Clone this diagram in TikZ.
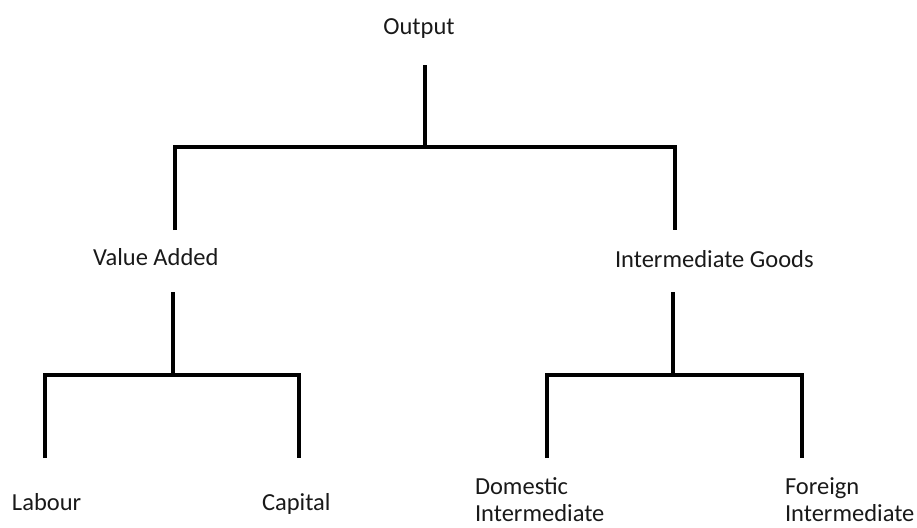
\documentclass[tikz,border=0pt]{standalone}
\usepackage{fontspec}
\setmainfont{Carlito}
\begin{document}
\begin{tikzpicture}[x=1pt,y=-1pt,
  lbl/.style={inner sep=0pt, outer sep=0pt, text=black!90,
    font=\fontsize{24.5}{27}\selectfont, align=left},
  conn/.style={draw=black, line width=3.5pt, line join=miter}]
\useasboundingbox (0,0) rectangle (917,527);

% labels (two-line labels sit on the baseline of their last line)
\node[lbl, anchor=base] (out) at (419,35) {Output};
\node[lbl, anchor=base west] (va) at (93,265) {Value Added};
\node[lbl, anchor=base west] (ig) at (615,267) {Intermediate Goods};
\node[lbl, anchor=base west] (lab) at (12,510) {Labour};
\node[lbl, anchor=base west] (cap) at (262,510) {Capital};
\node[lbl, anchor=base west] (dom) at (475,521) {Domestic\\Intermediate};
\node[lbl, anchor=base west] (for) at (785,521) {Foreign\\Intermediate};

% line ends and junctions
\coordinate (outB) at (425,65);
\coordinate (j0) at (425,147);
\coordinate (vaT) at (175,230);
\coordinate (igT) at (675,230);
\coordinate (vaB) at (173,292);
\coordinate (j1) at (173,375);
\coordinate (labT) at (45,458);
\coordinate (capT) at (299,458);
\coordinate (igB) at (673,292);
\coordinate (j2) at (673,375);
\coordinate (domT) at (547,458);
\coordinate (forT) at (802,458);

% tree connectors
\draw[conn] (outB) -- (j0);
\draw[conn] (vaT) |- (j0) -| (igT);
\draw[conn] (vaB) -- (j1);
\draw[conn] (labT) |- (j1) -| (capT);
\draw[conn] (igB) -- (j2);
\draw[conn] (domT) |- (j2) -| (forT);
\end{tikzpicture}
\end{document}
